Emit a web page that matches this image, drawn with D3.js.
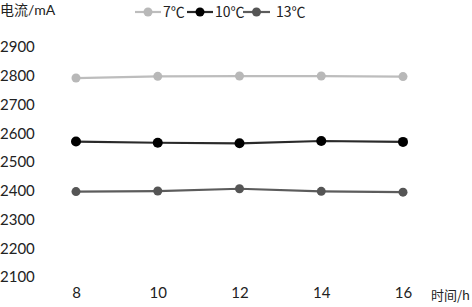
<!DOCTYPE html>
<html>
<head>
<meta charset="utf-8">
<script src="https://cdn.jsdelivr.net/npm/d3@7"></script>
<style>
  body { margin: 0; background: #fff; }
  text { font-family: Lato, "Noto Sans CJK SC", sans-serif; fill: #222; }
</style>
</head>
<body>
<div id="viz"></div>
<script>
const hours = [8, 10, 12, 14, 16];
const yTicks = [2100, 2200, 2300, 2400, 2500, 2600, 2700, 2800, 2900];
const seriesNames = ['7℃', '10℃', '13℃'];
const current7 = [2792, 2798, 2799, 2799, 2797];
const current10 = [2571, 2567, 2565, 2573, 2570];
const current13 = [2397, 2399, 2407, 2398, 2395];

const colours = {
  '7℃': '#b8b8b8',
  '10℃': '#000000',
  '13℃': '#555555',
};
const lineColours = {
  '7℃': '#bdbdbd',
  '10℃': '#2a2a2a',
  '13℃': '#5c5c5c',
};

const width = 472;
const height = 307;

const svg = d3.select('#viz')
  .append('svg')
  .attr('width', width)
  .attr('height', height);

const x = d3.scaleLinear().domain([8, 16]).range([76, 403]);
const y = d3.scaleLinear().domain([2100, 2900]).range([277, 47]);

// y axis: labels only, no lines
const yAxis = d3.axisLeft(y).tickValues(yTicks).tickFormat(d3.format('d')).tickSize(0).tickPadding(0);
svg.append('g')
  .call(yAxis)
  .call(g => g.select('.domain').remove())
  .call(g => g.selectAll('text')
    .attr('x', 0)
    .attr('text-anchor', 'start')
    .style('font-size', '15px')
    .style('font-family', 'Lato, sans-serif')
    .attr('fill', '#222'));

const xAxis = d3.axisBottom(x).tickValues(hours).tickFormat(d3.format('d')).tickSize(0).tickPadding(0);
svg.append('g')
  .attr('transform', 'translate(0,287)')
  .call(xAxis)
  .call(g => g.select('.domain').remove())
  .call(g => g.selectAll('text')
    .style('font-size', '15px')
    .style('font-family', 'Lato, sans-serif')
    .attr('fill', '#222'));

svg.append('text')
  .attr('x', 0)
  .attr('y', 15)
  .style('font-size', '14px')
  .text('电流/mA');

svg.append('text')
  .attr('x', 470)
  .attr('y', 300)
  .attr('text-anchor', 'end')
  .style('font-size', '13px')
  .style('font-family', '"Noto Sans CJK SC", sans-serif')
  .text('时间/h');

const dataset = [
  { name: '7℃', values: current7 },
  { name: '10℃', values: current10 },
  { name: '13℃', values: current13 },
];

const line = d3.line()
  .x((d, i) => x(hours[i]))
  .y(d => y(d));

const groups = svg.selectAll('g.series')
  .data(dataset)
  .enter()
  .append('g')
  .attr('class', 'series');

groups.append('path')
  .attr('d', d => line(d.values))
  .attr('fill', 'none')
  .attr('stroke', d => lineColours[d.name])
  .attr('stroke-width', 2.2);

groups.selectAll('circle')
  .data(d => d.values.map((v, i) => ({ name: d.name, v, h: hours[i] })))
  .enter()
  .append('circle')
  .attr('cx', d => x(d.h))
  .attr('cy', d => y(d.v))
  .attr('r', d => (d.name === '10℃' ? 5 : 4.5))
  .attr('fill', d => colours[d.name]);

// legend
const legendPos = [
  { x1: 135, x2: 161, tx: 163 },
  { x1: 187, x2: 213, tx: 215 },
  { x1: 243, x2: 270, tx: 276 },
];
const legend = svg.selectAll('g.legend')
  .data(seriesNames)
  .enter()
  .append('g')
  .attr('class', 'legend');

legend.append('line')
  .attr('x1', (d, i) => legendPos[i].x1)
  .attr('x2', (d, i) => legendPos[i].x2)
  .attr('y1', 12)
  .attr('y2', 12)
  .attr('stroke', d => lineColours[d])
  .attr('stroke-width', 2.2);

legend.append('circle')
  .attr('cx', (d, i) => (legendPos[i].x1 + legendPos[i].x2) / 2)
  .attr('cy', 12)
  .attr('r', 4.5)
  .attr('fill', d => colours[d]);

legend.append('text')
  .attr('x', (d, i) => legendPos[i].tx)
  .attr('y', 17)
  .style('font-size', '14px')
  .style('font-family', '"Noto Sans CJK SC", sans-serif')
  .text(d => d);
</script>
</body>
</html>
